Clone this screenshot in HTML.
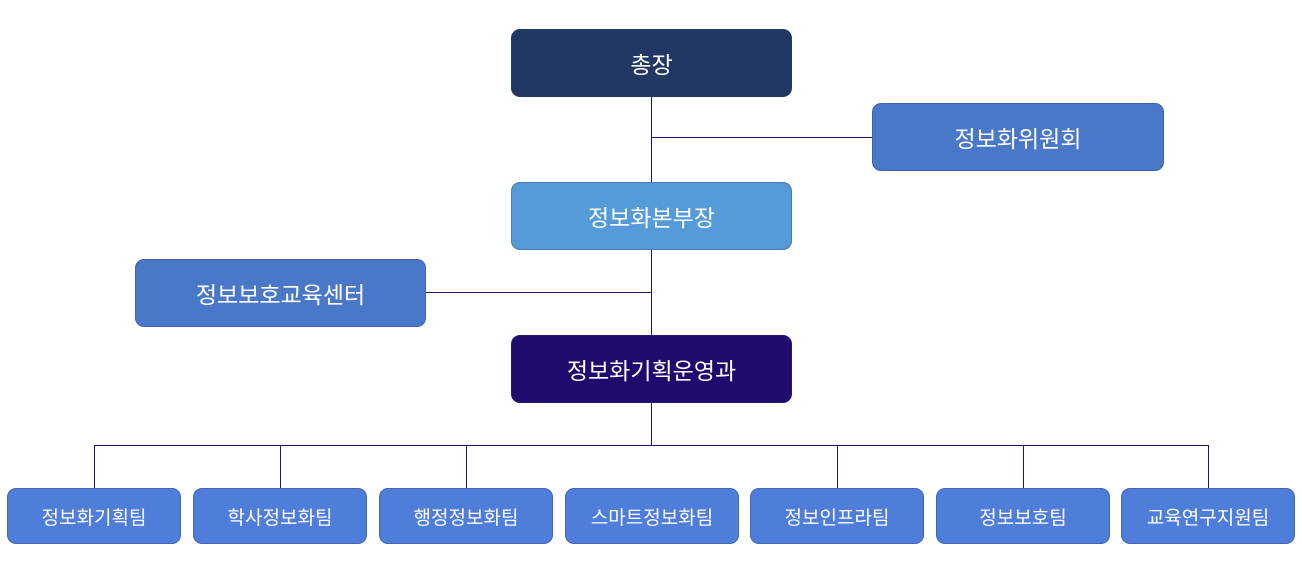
<!DOCTYPE html>
<html><head><meta charset="utf-8"><style>
body{margin:0;width:1302px;height:566px;background:#fff;position:relative;overflow:hidden;font-family:"Liberation Sans","Noto Sans CJK KR",sans-serif}
.b{position:absolute;box-sizing:border-box;border-radius:9px;color:#fff;display:flex;align-items:center;justify-content:center;border:1px solid rgba(40,60,120,.35)}
.t{font-size:23px}
.s{font-size:19px;width:174px;height:56px;top:488px;background:#4f7dda}
.l{position:absolute;background:#1c1466}
</style></head><body>
<div class="l" style="left:651px;top:96px;width:1px;height:349px"></div>
<div class="l" style="left:651px;top:137px;width:221px;height:1px"></div>
<div class="l" style="left:425px;top:292px;width:226px;height:1px"></div>
<div class="l" style="left:94px;top:445px;width:1115px;height:1px"></div>
<div class="l" style="left:94px;top:445px;width:1px;height:43px"></div>
<div class="l" style="left:280px;top:445px;width:1px;height:43px"></div>
<div class="l" style="left:466px;top:445px;width:1px;height:43px"></div>
<div class="l" style="left:837px;top:445px;width:1px;height:43px"></div>
<div class="l" style="left:1023px;top:445px;width:1px;height:43px"></div>
<div class="l" style="left:1208px;top:445px;width:1px;height:43px"></div>
<div class="b t" style="left:511px;top:29px;width:281px;height:68px;background:#213864">총장</div>
<div class="b t" style="left:872px;top:103px;width:292px;height:68px;background:#4a78c8">정보화위원회</div>
<div class="b t" style="left:511px;top:182px;width:281px;height:68px;background:#559ad9">정보화본부장</div>
<div class="b t" style="left:135px;top:259px;width:291px;height:68px;background:#4a78c8">정보보호교육센터</div>
<div class="b t" style="left:511px;top:335px;width:281px;height:68px;background:#200a6e">정보화기획운영과</div>
<div class="b s" style="left:7px">정보화기획팀</div>
<div class="b s" style="left:193px">학사정보화팀</div>
<div class="b s" style="left:379px">행정정보화팀</div>
<div class="b s" style="left:565px">스마트정보화팀</div>
<div class="b s" style="left:750px">정보인프라팀</div>
<div class="b s" style="left:936px">정보보호팀</div>
<div class="b s" style="left:1121px">교육연구지원팀</div>
</body></html>
